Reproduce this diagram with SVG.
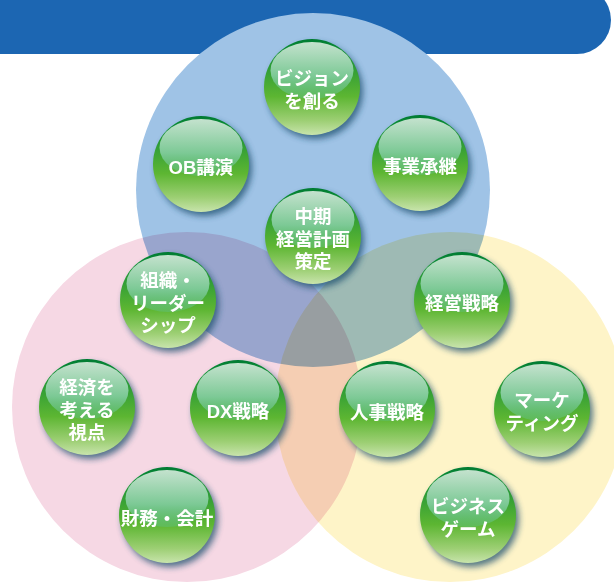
<svg xmlns="http://www.w3.org/2000/svg" width="614" height="582" viewBox="0 0 614 582">
<style>
.lbl{font-family:"Liberation Sans","Noto Sans CJK JP",sans-serif;font-size:18.5px;font-weight:bold;fill:#ffffff;text-anchor:middle}
.sh{fill:#1f4f6e;opacity:.75;filter:url(#blur)}
.body{fill:url(#gBody)}
.hl{fill:url(#gHl)}
.mul{mix-blend-mode:multiply}
</style>
<defs>
<filter id="blur" x="-30%" y="-30%" width="160%" height="160%"><feGaussianBlur stdDeviation="3"/></filter>
<linearGradient id="gBody" x1="0" y1="0" x2="0" y2="1">
<stop offset="0" stop-color="#007a33"/>
<stop offset="0.08" stop-color="#0a8a35"/>
<stop offset="0.3" stop-color="#2f9d36"/>
<stop offset="0.6" stop-color="#5db632"/>
<stop offset="0.85" stop-color="#9dcf74"/>
<stop offset="1" stop-color="#c8e4ac"/>
</linearGradient>
<linearGradient id="gHl" x1="0" y1="0" x2="0" y2="1">
<stop offset="0" stop-color="#c4e2ce"/>
<stop offset="0.6" stop-color="#7cc995"/>
<stop offset="1" stop-color="#5fbf7a" stop-opacity="0.5"/>
</linearGradient>
</defs>

<g id="background">
<rect x="-40" y="-14" width="651" height="68" rx="34" fill="#1c66b2"/>
<circle cx="313" cy="190" r="177" fill="#9fc3e6"/>
<circle class="mul" cx="187" cy="407" r="175" fill="#f6d8e4"/>
<circle class="mul" cx="450" cy="407" r="175" fill="#fef4c8"/>
</g>

<g id="connectors"></g>

<g id="node-vision">
<circle class="sh" cx="315" cy="91" r="48"/>
<circle class="body" cx="312" cy="87" r="48"/>
<ellipse class="hl" cx="312" cy="70.5" rx="41.5" ry="28.5"/>
<text class="lbl" x="312" y="85">ビジョン</text>
<text class="lbl" x="312" y="108">を創る</text>
</g>

<g id="node-ob">
<circle class="sh" cx="204" cy="168" r="48"/>
<circle class="body" cx="201" cy="164" r="48"/>
<ellipse class="hl" cx="201" cy="147.5" rx="41.5" ry="28.5"/>
<text class="lbl" x="201" y="173.5">OB講演</text>
</g>

<g id="node-jigyo">
<circle class="sh" cx="423" cy="167" r="48"/>
<circle class="body" cx="420" cy="163" r="48"/>
<ellipse class="hl" cx="420" cy="146.5" rx="41.5" ry="28.5"/>
<text class="lbl" x="420" y="172.5">事業承継</text>
</g>

<g id="node-chuki">
<circle class="sh" cx="316" cy="240" r="48"/>
<circle class="body" cx="313" cy="236" r="48"/>
<ellipse class="hl" cx="313" cy="219.5" rx="41.5" ry="28.5"/>
<text class="lbl" x="313" y="223">中期</text>
<text class="lbl" x="313" y="245.5">経営計画</text>
<text class="lbl" x="313" y="268">策定</text>
</g>

<g id="node-soshiki">
<circle class="sh" cx="171" cy="304" r="48"/>
<circle class="body" cx="168" cy="300" r="48"/>
<ellipse class="hl" cx="168" cy="283.5" rx="41.5" ry="28.5"/>
<text class="lbl" x="168" y="287">組織・</text>
<text class="lbl" x="168" y="309.5">リーダー</text>
<text class="lbl" x="168" y="332">シップ</text>
</g>

<g id="node-keiei">
<circle class="sh" cx="465" cy="304" r="48"/>
<circle class="body" cx="462" cy="300" r="48"/>
<ellipse class="hl" cx="462" cy="283.5" rx="41.5" ry="28.5"/>
<text class="lbl" x="462" y="309.5">経営戦略</text>
</g>

<g id="node-keizai">
<circle class="sh" cx="90" cy="411" r="48"/>
<circle class="body" cx="87" cy="407" r="48"/>
<ellipse class="hl" cx="87" cy="390.5" rx="41.5" ry="28.5"/>
<text class="lbl" x="87" y="394">経済を</text>
<text class="lbl" x="87" y="416.5">考える</text>
<text class="lbl" x="87" y="439">視点</text>
</g>

<g id="node-dx">
<circle class="sh" cx="241" cy="412" r="48"/>
<circle class="body" cx="238" cy="408" r="48"/>
<ellipse class="hl" cx="238" cy="391.5" rx="41.5" ry="28.5"/>
<text class="lbl" x="238" y="417.5">DX戦略</text>
</g>

<g id="node-jinji">
<circle class="sh" cx="390" cy="413" r="48"/>
<circle class="body" cx="387" cy="409" r="48"/>
<ellipse class="hl" cx="387" cy="392.5" rx="41.5" ry="28.5"/>
<text class="lbl" x="387" y="418.5">人事戦略</text>
</g>

<g id="node-marketing">
<circle class="sh" cx="545" cy="413" r="48"/>
<circle class="body" cx="542" cy="409" r="48"/>
<ellipse class="hl" cx="542" cy="392.5" rx="41.5" ry="28.5"/>
<text class="lbl" x="542" y="407">マーケ</text>
<text class="lbl" x="542" y="430">ティング</text>
</g>

<g id="node-zaimu">
<circle class="sh" cx="170" cy="519" r="48"/>
<circle class="body" cx="167" cy="515" r="48"/>
<ellipse class="hl" cx="167" cy="498.5" rx="41.5" ry="28.5"/>
<text class="lbl" x="167" y="524.5">財務・会計</text>
</g>

<g id="node-bizgame">
<circle class="sh" cx="471" cy="519" r="48"/>
<circle class="body" cx="468" cy="515" r="48"/>
<ellipse class="hl" cx="468" cy="498.5" rx="41.5" ry="28.5"/>
<text class="lbl" x="468" y="513">ビジネス</text>
<text class="lbl" x="468" y="536">ゲーム</text>
</g>
</svg>
